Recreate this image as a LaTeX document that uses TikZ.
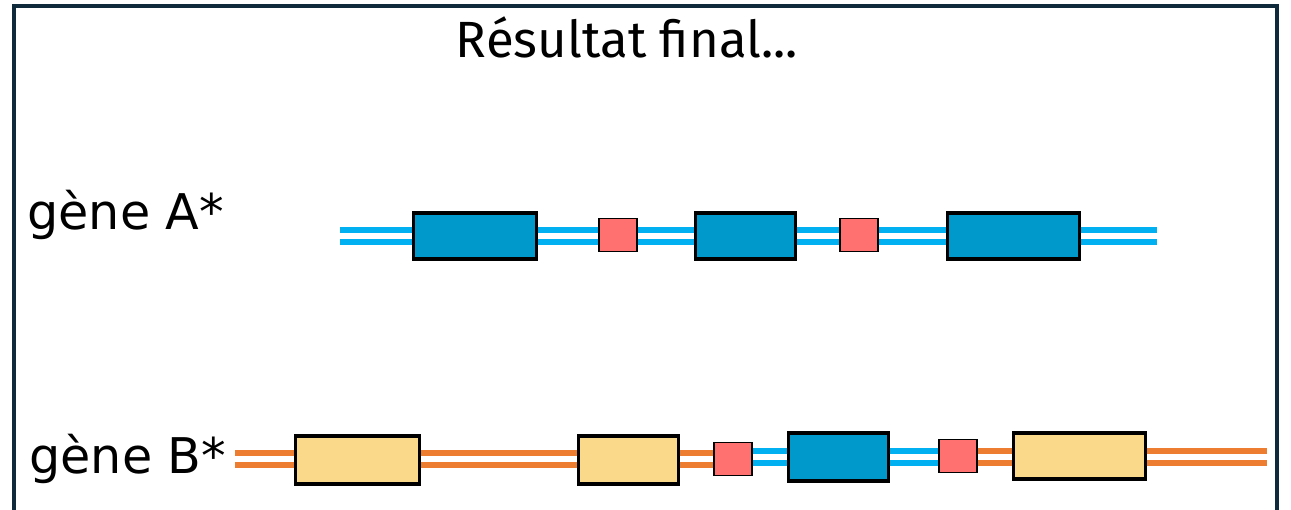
\documentclass[tikz,border=0pt]{standalone}
\usepackage{fontspec}
\usepackage{tikz}
\usetikzlibrary{positioning}
\newfontfamily\labelfont{DejaVu Sans}
\newfontfamily\titlefont{Fira Sans}
\definecolor{frame}{HTML}{0E2A3B}
\definecolor{intronA}{HTML}{00B0F0}
\definecolor{intronB}{HTML}{ED7D31}
\definecolor{exonA}{HTML}{0099CC}
\definecolor{exonB}{HTML}{FADA8A}
\definecolor{junction}{HTML}{FF7171}

\begin{document}
\begin{tikzpicture}[x=0.02cm, y=-0.02cm,
  intron/.style={line width=3.2pt, double=white, double distance=3.6pt},
  exon/.style={draw=black, line width=1.9pt, minimum height=0.92cm, inner sep=0pt},
  junc/.style={draw=black, fill=junction, line width=1.1pt, minimum width=0.76cm, minimum height=0.66cm, inner sep=0pt},
  gene/.style={font=\labelfont\fontsize{28}{32}\selectfont, anchor=base west, inner sep=0pt}]
\useasboundingbox (0,0) rectangle (1291,510);
\clip (0,0) rectangle (1291,510);
\draw[frame, line width=2.3pt] (14,520) -- (14,6) -- (1277,6) -- (1277,520);
\node[font=\titlefont\fontsize{29}{33}\selectfont, anchor=base] (title) at (627,58) {Résultat final...};

% gene A*
\coordinate (a0) at (340,236);
\coordinate (a1) at (1157,236);
\node[exon, fill=exonA, minimum width=2.46cm] (exA1) at (475,236) {};
\node[junc] (jA1) at (618,235) {};
\node[exon, fill=exonA, minimum width=2cm] (exA2) at (745.5,236) {};
\node[junc] (jA2) at (859,235) {};
\node[exon, fill=exonA, minimum width=2.64cm] (exA3) at (1013.5,236) {};
\draw[intron, intronA] (a0) -- (exA1.west);
\draw[intron, intronA] (exA1.east) -- (exA1.east -| jA1.west);
\draw[intron, intronA] (exA2.west -| jA1.east) -- (exA2.west);
\draw[intron, intronA] (exA2.east) -- (exA2.east -| jA2.west);
\draw[intron, intronA] (exA3.west -| jA2.east) -- (exA3.west);
\draw[intron, intronA] (exA3.east) -- (a1);
\node[gene] (geneA) at (27,229) {gène A*};

% gene B*
\coordinate (b0) at (235,459);
\coordinate (b1) at (1267,457);
\node[exon, fill=exonB, minimum width=2.48cm, minimum height=0.96cm] (exB1) at (357.5,460) {};
\node[exon, fill=exonB, minimum width=2cm, minimum height=0.96cm] (exB2) at (628.5,460) {};
\node[junc] (jB1) at (733,459) {};
\node[exon, fill=exonA, minimum width=2cm, minimum height=0.96cm] (exB3) at (838.5,457) {};
\node[junc] (jB2) at (958,456) {};
\node[exon, fill=exonB, minimum width=2.64cm] (exB4) at (1079.5,456) {};
\draw[intron, intronB] (b0) -- (b0 -| exB1.west);
\draw[intron, intronB] (b0 -| exB1.east) -- (b0 -| exB2.west);
\draw[intron, intronB] (b0 -| exB2.east) -- (b0 -| jB1.west);
\draw[intron, intronA] (b1 -| jB1.east) -- (b1 -| exB3.west);
\draw[intron, intronA] (b1 -| exB3.east) -- (b1 -| jB2.west);
\draw[intron, intronB] (b1 -| jB2.east) -- (b1 -| exB4.west);
\draw[intron, intronB] (b1 -| exB4.east) -- (b1);
\node[gene] (geneB) at (29,473) {gène B*};
\end{tikzpicture}
\end{document}
